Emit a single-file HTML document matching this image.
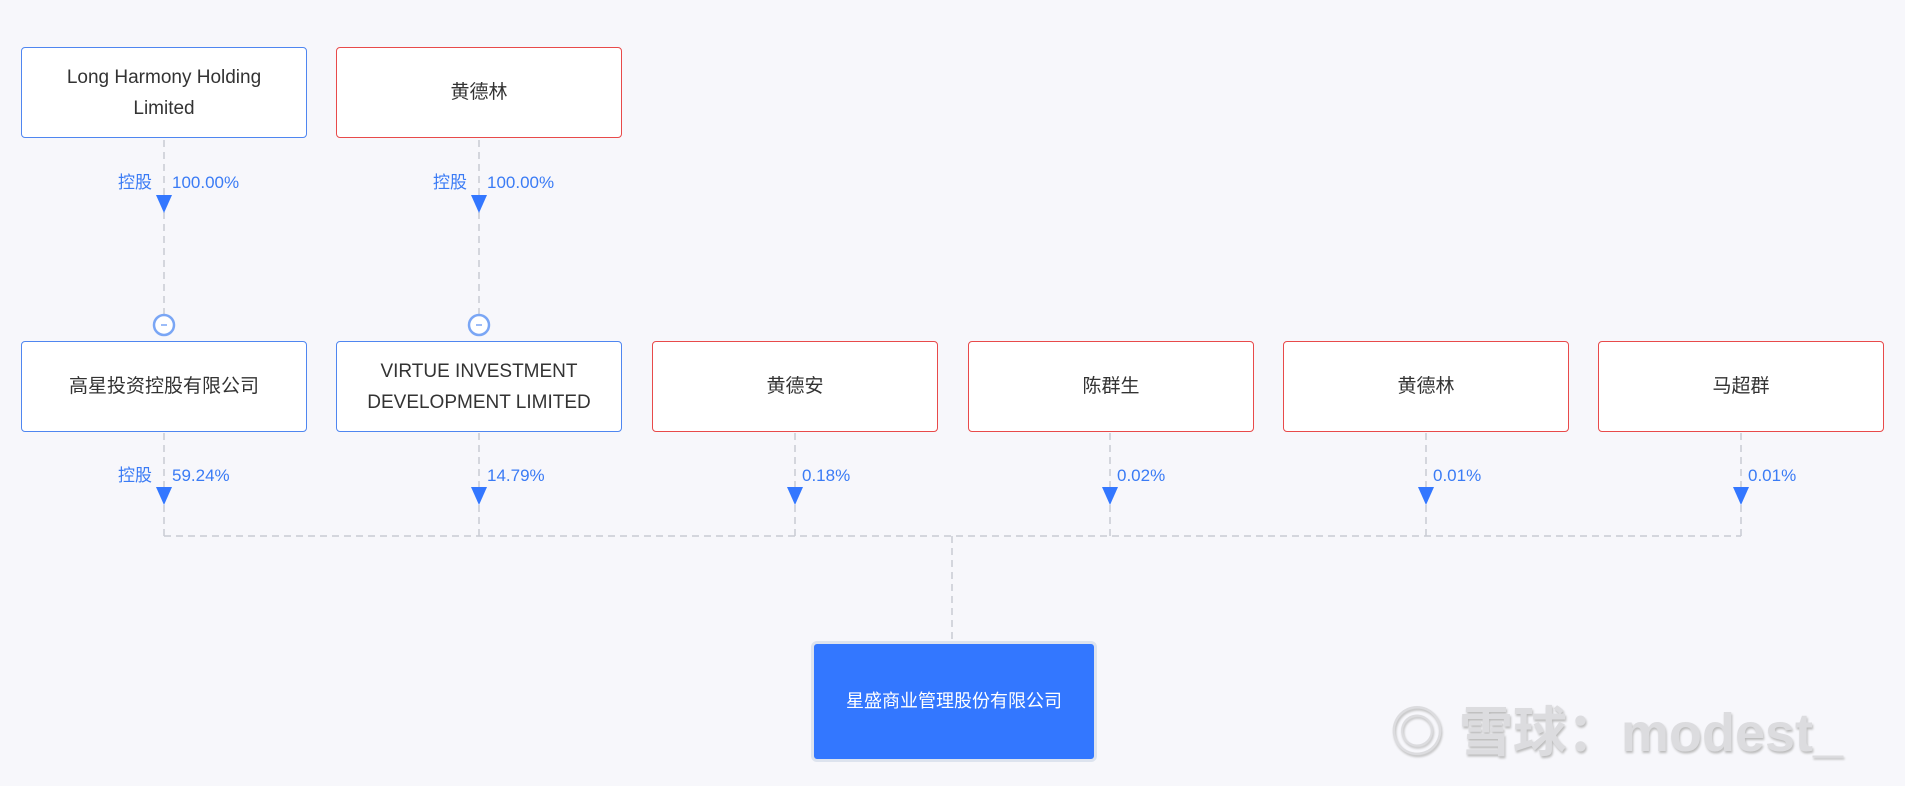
<!DOCTYPE html>
<html><head><meta charset="utf-8"><style>
body{margin:0;width:1905px;height:786px;background:#f7f7fb;position:relative;overflow:hidden;font-family:"Liberation Sans","Noto Sans CJK SC",sans-serif}
.b{position:absolute;box-sizing:border-box;background:#fff;border:1.5px solid #4f86f0;border-radius:4px;display:flex;align-items:center;justify-content:center;text-align:center;font-size:19px;line-height:31px;color:#333;width:286px;height:91px}
.r{border-color:#e84a4a}
.l{position:absolute;font-size:17px;line-height:20px;height:20px;color:#3a7bf5;white-space:nowrap}
</style></head><body>
<svg width="1905" height="786" style="position:absolute;left:0;top:0">
<g stroke="#c9cbd3" stroke-width="1.5" stroke-dasharray="7,5" fill="none">
<line x1="164" y1="140" x2="164" y2="318"/><line x1="479" y1="140" x2="479" y2="318"/>
<line x1="164" y1="433" x2="164" y2="536"/><line x1="479" y1="433" x2="479" y2="536"/>
<line x1="795" y1="433" x2="795" y2="536"/><line x1="1110" y1="433" x2="1110" y2="536"/>
<line x1="1426" y1="433" x2="1426" y2="536"/><line x1="1741" y1="433" x2="1741" y2="536"/>
<line x1="164" y1="536" x2="1741" y2="536"/><line x1="952" y1="536" x2="952" y2="640"/>
</g>
<g fill="#3377ff">
<polygon points="156,195 172,195 164,213"/><polygon points="471,195 487,195 479,213"/>
<polygon points="156,487 172,487 164,505"/><polygon points="471,487 487,487 479,505"/>
<polygon points="787,487 803,487 795,505"/><polygon points="1102,487 1118,487 1110,505"/>
<polygon points="1418,487 1434,487 1426,505"/><polygon points="1733,487 1749,487 1741,505"/>
</g>
<g fill="#fff" stroke="#7aa6f5" stroke-width="2.5"><circle cx="164" cy="325" r="10"/><circle cx="479" cy="325" r="10"/></g>
<g stroke="#7aa6f5" stroke-width="1.5"><line x1="161" y1="325" x2="167" y2="325"/><line x1="476" y1="325" x2="482" y2="325"/></g>
</svg>
<div class="b" style="left:21px;top:47px">Long Harmony Holding<br>Limited</div>
<div class="b r" style="left:336px;top:47px">黄德林</div>
<div class="b" style="left:21px;top:341px">高星投资控股有限公司</div>
<div class="b" style="left:336px;top:341px">VIRTUE INVESTMENT<br>DEVELOPMENT LIMITED</div>
<div class="b r" style="left:652px;top:341px">黄德安</div>
<div class="b r" style="left:968px;top:341px">陈群生</div>
<div class="b r" style="left:1283px;top:341px">黄德林</div>
<div class="b r" style="left:1598px;top:341px">马超群</div>
<div class="b" style="left:811px;top:641px;width:286px;height:121px;background:#3377ff;border:3px solid #dde3ee;border-radius:6px;color:#fff;font-size:18px">星盛商业管理股份有限公司</div>
<div class="l" style="left:118px;top:173px">控股</div><div class="l" style="left:172px;top:173px">100.00%</div>
<div class="l" style="left:433px;top:173px">控股</div><div class="l" style="left:487px;top:173px">100.00%</div>
<div class="l" style="left:118px;top:466px">控股</div><div class="l" style="left:172px;top:466px">59.24%</div>
<div class="l" style="left:487px;top:466px">14.79%</div>
<div class="l" style="left:802px;top:466px">0.18%</div>
<div class="l" style="left:1117px;top:466px">0.02%</div>
<div class="l" style="left:1433px;top:466px">0.01%</div>
<div class="l" style="left:1748px;top:466px">0.01%</div>
<div style="position:absolute;left:1390px;top:688px;font-size:54px;font-weight:bold;color:#dcdcdf;white-space:nowrap;text-shadow:1px 2px 2px #bbb">◎ 雪球：modest_</div>
</body></html>
